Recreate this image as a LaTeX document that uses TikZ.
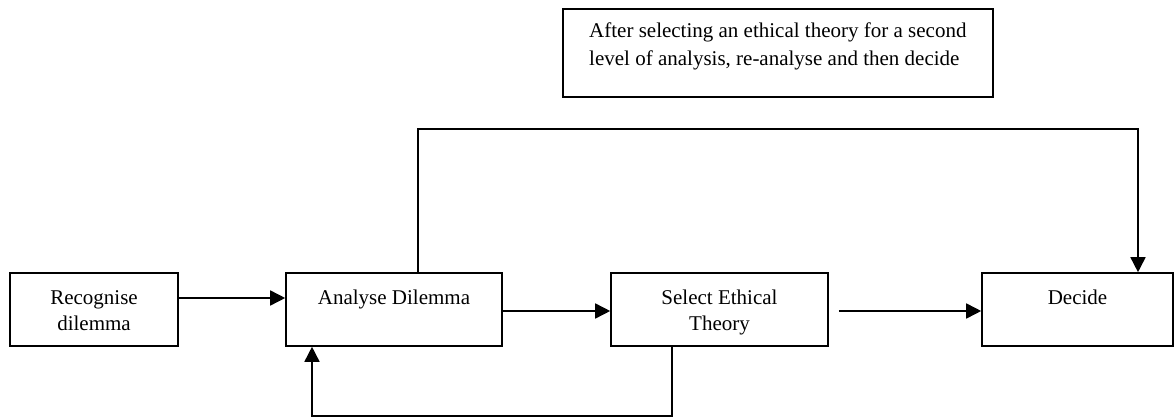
\documentclass[tikz,border=0pt]{standalone}
\usepackage{fontspec}
\setmainfont{Liberation Serif}
\usetikzlibrary{arrows.meta}
% struts that place both lines a little below the box centre
\newcommand{\hiline}{\rule{0pt}{21.2pt}}
\newcommand{\loline}{\rule[-4.8pt]{0pt}{4.8pt}}
\begin{document}
\begin{tikzpicture}[x=1pt,y=1pt,
  stage/.style={draw,line width=1.6pt,minimum height=73pt,inner sep=0pt,
    align=center,font=\fontsize{21}{26}\selectfont},
  notebox/.style={draw,line width=1.6pt,minimum width=430pt,minimum height=88pt,inner sep=0pt},
  notetxt/.style={inner sep=0pt,align=left,font=\fontsize{21}{28}\selectfont},
  arr/.style={line width=1.6pt,-{Triangle[length=15pt,width=15pt]}}]
\useasboundingbox (0,0) rectangle (1175,418);

% the four stages
\node[stage,minimum width=168pt] (rec) at (94,108.5) {Recognise\hiline\\dilemma\loline};
\node[stage,minimum width=216pt] (ana) at (394,108.5) {Analyse Dilemma\hiline\\\loline};
\node[stage,minimum width=217pt] (sel) at (719.5,108.5) {Select Ethical\hiline\\Theory\loline};
\node[stage,minimum width=191pt] (dec) at (1077.5,108.5) {Decide\hiline\\\loline};

% explanatory note
\node[notebox] (note) at (778,365) {};
\node[notetxt,anchor=north west] (notetext) at (589,395.5)
  {After selecting an ethical theory for a second\\level of analysis, re-analyse and then decide};

% forward flow
\draw[arr] ([yshift=11.5pt]rec.east) -- ([yshift=11.5pt]rec.east -| ana.west);
\draw[arr] ([yshift=-1.5pt]ana.east) -- ([yshift=-1.5pt]ana.east -| sel.west);
\coordinate (gap) at ([xshift=10pt,yshift=-1.5pt]sel.east);
\draw[arr] (gap) -- (gap -| dec.west);

% second-level analysis loop over the top
\coordinate (up1) at (418,289);
\coordinate (up2) at (1138,289);
\draw[arr] (up1 |- ana.north) -- (up1) -- (up2) -- (up2 |- dec.north);

% feedback from theory selection back to analysis
\coordinate (lo1) at (672,2);
\coordinate (lo2) at (312,2);
\draw[arr] (lo1 |- sel.south) -- (lo1) -- (lo2) -- (lo2 |- ana.south);
\end{tikzpicture}
\end{document}
